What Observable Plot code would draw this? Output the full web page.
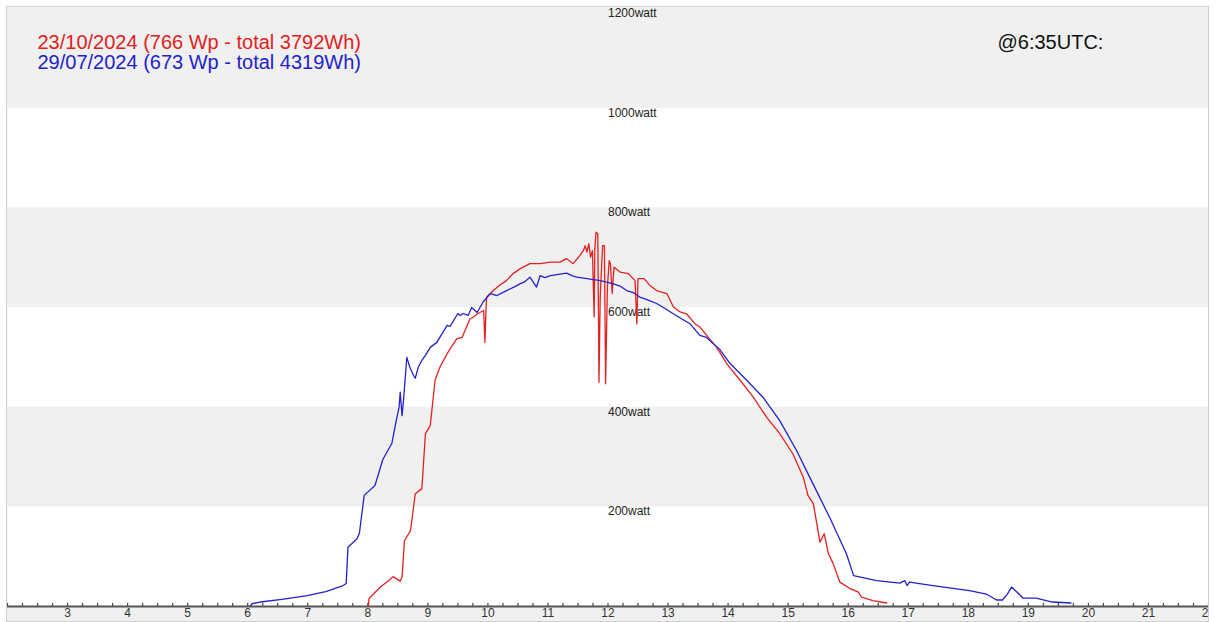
<!DOCTYPE html>
<html>
<head>
<meta charset="utf-8">
<script src="https://cdn.jsdelivr.net/npm/d3@7"></script>
<script src="https://cdn.jsdelivr.net/npm/@observablehq/plot@0.6"></script>
<style>
  html, body { margin: 0; padding: 0; background: white; }
  #wrap { position: absolute; left: 6px; top: 6px; border: 1px solid #cfcfcf; width: 1201px; height: 614px; overflow: hidden; }
  #wrap svg { display: block; overflow: hidden; max-width: none; }
</style>
</head>
<body>
<div id="wrap"></div>
<script>
// Series 1: 23/10/2024 (red)
const redHours = [8.01, 8.02, 8.21, 8.35, 8.42, 8.54, 8.57, 8.61, 8.66, 8.71, 8.73, 8.79, 8.85, 8.90, 8.96, 9.04, 9.12, 9.20, 9.32, 9.37, 9.48, 9.57, 9.70, 9.76, 9.82, 9.93, 9.95, 9.97, 9.98, 10.09, 10.20, 10.31, 10.42, 10.54, 10.70, 10.87, 11.04, 11.20, 11.31, 11.42, 11.53, 11.59, 11.62, 11.65, 11.68, 11.71, 11.74, 11.77, 11.78, 11.80, 11.83, 11.85, 11.87, 11.91, 11.94, 11.96, 11.99, 12.02, 12.04, 12.07, 12.10, 12.20, 12.34, 12.45, 12.48, 12.50, 12.60, 12.70, 12.81, 12.98, 13.09, 13.20, 13.31, 13.45, 13.53, 13.67, 13.81, 13.98, 14.20, 14.42, 14.64, 14.86, 15.08, 15.25, 15.33, 15.42, 15.53, 15.60, 15.67, 15.75, 15.86, 16.03, 16.17, 16.22, 16.41, 16.64];
const redWatts = [0, 16, 39, 52, 60, 51, 59, 132, 142, 152, 169, 226, 232, 236, 347, 363, 454, 480, 507, 517, 537, 540, 577, 581, 587, 594, 530, 600, 621, 634, 645, 654, 668, 678, 688, 688, 691, 691, 698, 688, 704, 714, 724, 711, 728, 701, 714, 581, 716, 751, 748, 450, 621, 724, 724, 447, 641, 694, 688, 628, 681, 671, 668, 654, 567, 658, 658, 644, 634, 628, 601, 591, 587, 567, 561, 540, 520, 487, 454, 420, 380, 347, 306, 260, 223, 206, 129, 146, 106, 86, 49, 36, 29, 19, 12, 7];

// Series 2: 29/07/2024 (blue)
const blueHours = [6.05, 6.08, 6.21, 6.60, 6.99, 7.30, 7.59, 7.64, 7.67, 7.75, 7.82, 7.86, 7.94, 8.03, 8.12, 8.17, 8.25, 8.32, 8.40, 8.48, 8.52, 8.54, 8.57, 8.59, 8.65, 8.70, 8.76, 8.79, 8.84, 8.90, 8.96, 9.04, 9.15, 9.20, 9.32, 9.37, 9.50, 9.54, 9.59, 9.67, 9.73, 9.82, 9.92, 10.04, 10.15, 10.31, 10.45, 10.54, 10.62, 10.70, 10.81, 10.87, 10.95, 11.04, 11.15, 11.31, 11.40, 11.48, 11.65, 11.87, 12.08, 12.20, 12.31, 12.42, 12.53, 12.65, 12.81, 12.95, 13.08, 13.23, 13.36, 13.53, 13.64, 13.86, 14.03, 14.31, 14.58, 14.86, 15.14, 15.41, 15.69, 15.97, 16.09, 16.47, 16.86, 16.94, 16.98, 17.02, 17.41, 18.02, 18.30, 18.47, 18.57, 18.65, 18.72, 18.80, 18.91, 19.13, 19.40, 19.71];
const blueWatts = [2, 6, 9, 15, 22, 30, 42, 46, 119, 128, 136, 147, 223, 233, 243, 263, 295, 310, 327, 377, 399, 430, 383, 407, 500, 480, 464, 458, 480, 494, 504, 520, 530, 540, 564, 562, 588, 584, 588, 584, 600, 590, 611, 628, 624, 634, 642, 648, 652, 661, 641, 664, 660, 664, 666, 669, 664, 661, 658, 654, 648, 643, 634, 630, 621, 616, 608, 598, 588, 577, 568, 544, 540, 516, 488, 454, 420, 373, 313, 247, 179, 106, 62, 52, 47, 52, 42, 49, 42, 32, 25, 13, 13, 25, 39, 30, 17, 17, 9, 7];

const legendRed = "23/10/2024 (766 Wp - total 3792Wh)";
const legendBlue = "29/07/2024 (673 Wp - total 4319Wh)";
const timeLabel = "@6:35UTC:";

const yTicks = [200, 400, 600, 800, 1000, 1200];
const xTickLabels = [3, 4, 5, 6, 7, 8, 9, 10, 11, 12, 13, 14, 15, 16, 17, 18, 19, 20, 21, 22];
const grayBands = [[200, 400], [600, 800], [1000, 1200]];

const red = redHours.map((h, i) => ({h, w: redWatts[i]}));
const blue = blueHours.map((h, i) => ({h, w: blueWatts[i]}));
const bands = grayBands.map(([a, b]) => ({a, b}));
const quarterTicks = d3.range(2, 22.001, 0.25);

const chart = Plot.plot({
  width: 1201,
  height: 614,
  marginLeft: 0,
  marginRight: 0,
  marginTop: 1,
  marginBottom: 15,
  style: {background: "#f0f0f0", fontFamily: "Liberation Sans, Arial, sans-serif", overflow: "hidden"},
  x: {domain: [2, 22], label: null},
  y: {domain: [0, 1200], axis: null},
  marks: [
    Plot.frame({fill: "white", stroke: null}),
    Plot.rect(bands, {y1: "a", y2: "b", fill: "#f0f0f0"}),
    Plot.axisX({ticks: quarterTicks, tickSize: -3, text: null, label: null, stroke: "#444", strokeWidth: 1.2}),
    Plot.axisX({ticks: xTickLabels, tickSize: 0, tickPadding: 2, fontSize: 12, fill: "#333", tickFormat: d => String(d), label: null}),
    Plot.ruleY([0], {stroke: "#555", strokeWidth: 2}),
    Plot.text(yTicks, {x: 12, y: d => d, text: d => d + "watt", textAnchor: "start", lineAnchor: "top", dy: 0, fontSize: 12, fill: "#222"}),
    Plot.line(red, {x: "h", y: "w", stroke: "#e32020", strokeWidth: 1.3}),
    Plot.line(blue, {x: "h", y: "w", stroke: "#2222cc", strokeWidth: 1.3}),
    Plot.text([legendRed], {frameAnchor: "top-left", dx: 30, dy: 26, text: d => d, textAnchor: "start", fontSize: 20, fill: "#e32020"}),
    Plot.text([legendBlue], {frameAnchor: "top-left", dx: 30, dy: 46, text: d => d, textAnchor: "start", fontSize: 20, fill: "#2222cc"}),
    Plot.text([timeLabel], {frameAnchor: "top-left", dx: 990, dy: 26, text: d => d, textAnchor: "start", fontSize: 20, fill: "#111"})
  ]
});
document.getElementById("wrap").appendChild(chart);
</script>
</body>
</html>
